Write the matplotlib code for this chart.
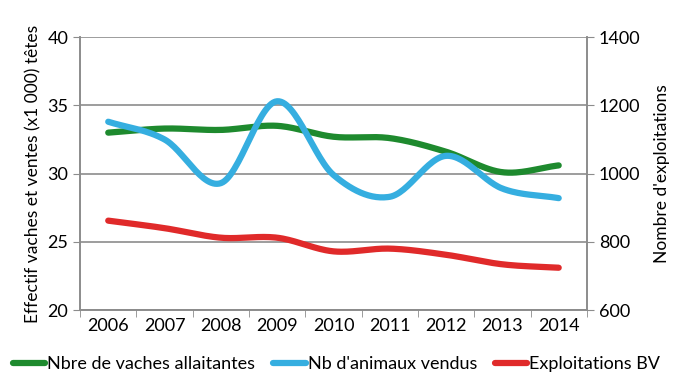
import numpy as np
import matplotlib.pyplot as plt

plt.rcParams['font.family'] = ['Lato', 'DejaVu Sans']

years = ['2006', '2007', '2008', '2009', '2010', '2011', '2012', '2013', '2014']
vaches = [33.0, 33.3, 33.2, 33.5, 32.7, 32.6, 31.6, 30.1, 30.6]
vendus = [33.8, 32.5, 29.3, 35.3, 29.9, 28.3, 31.3, 28.9, 28.2]
exploitations = [862, 840, 812, 812, 772, 780, 762, 734, 724]


def smooth(x, y, n=30, t=0.5):
    # catmull-rom style smoothing (like excel "smoothed line")
    x = np.asarray(x, float)
    y = np.asarray(y, float)
    px = np.concatenate([[2 * x[0] - x[1]], x, [2 * x[-1] - x[-2]]])
    py = np.concatenate([[2 * y[0] - y[1]], y, [2 * y[-1] - y[-2]]])
    xs, ys = [], []
    for i in range(1, len(px) - 2):
        s = np.linspace(0, 1, n)
        m1x, m2x = t * (px[i + 1] - px[i - 1]), t * (px[i + 2] - px[i])
        m1y, m2y = t * (py[i + 1] - py[i - 1]), t * (py[i + 2] - py[i])
        h00 = 2 * s**3 - 3 * s**2 + 1
        h10 = s**3 - 2 * s**2 + s
        h01 = -2 * s**3 + 3 * s**2
        h11 = s**3 - s**2
        xs.append(h00 * px[i] + h10 * m1x + h01 * px[i + 1] + h11 * m2x)
        ys.append(h00 * py[i] + h10 * m1y + h01 * py[i + 1] + h11 * m2y)
    return np.concatenate(xs), np.concatenate(ys)


x = np.arange(len(years))
green = '#1e8a2e'
blue = '#35aee0'
red = '#e02a2a'
grey = '#8c8c8c'

fig = plt.figure(figsize=(6.73, 3.79), dpi=100)
ax = fig.add_axes([0.119, 0.182, 0.753, 0.72])
ax2 = ax.twinx()

sx, sy = smooth(x, vaches)
l1, = ax.plot(sx, sy, color=green, lw=4.5, solid_capstyle='round', zorder=3)
sx, sy = smooth(x, vendus)
l2, = ax.plot(sx, sy, color=blue, lw=4.5, solid_capstyle='round', zorder=3)
sx, sy = smooth(x, exploitations)
l3, = ax2.plot(sx, sy, color=red, lw=4.5, solid_capstyle='round', zorder=3)

ax.set_ylim(20, 40)
ax.set_yticks([20, 25, 30, 35, 40])
ax2.set_ylim(600, 1400)
ax2.set_yticks([600, 800, 1000, 1200, 1400])
ax.set_xlim(-0.5, len(years) - 0.5)
ax.set_xticks(x)
ax.set_xticklabels(years)
ax.set_xticks(np.arange(-0.5, len(years)), minor=True)
ax.tick_params(axis='x', which='major', length=0, labelsize=13, pad=6)
ax.tick_params(axis='x', which='minor', length=5, color=grey)
ax.tick_params(axis='y', length=5, color=grey, labelsize=13)
ax2.tick_params(axis='y', length=5, color=grey, labelsize=13)

ax.yaxis.grid(True, color=grey, lw=1.2)
ax.set_axisbelow(True)
for a in (ax, ax2):
    a.spines['top'].set_visible(False)
    for s in ('left', 'right', 'bottom'):
        a.spines[s].set_color(grey)
        a.spines[s].set_linewidth(1.2)

ax.set_ylabel("Effectif vaches et ventes (x1 000) têtes", fontsize=12.5, labelpad=4)
ax2.set_ylabel("Nombre d'exploitations", fontsize=12.5, labelpad=10)

fig.legend([l1, l2, l3], ['Nbre de vaches allaitantes', "Nb d'animaux vendus", 'Exploitations BV'],
           loc='lower center', bbox_to_anchor=(0.5, -0.025), ncol=3, frameon=False,
           fontsize=13, handlelength=1.8, handletextpad=0.1, columnspacing=1.0)

fig.savefig('out.png', dpi=100)
